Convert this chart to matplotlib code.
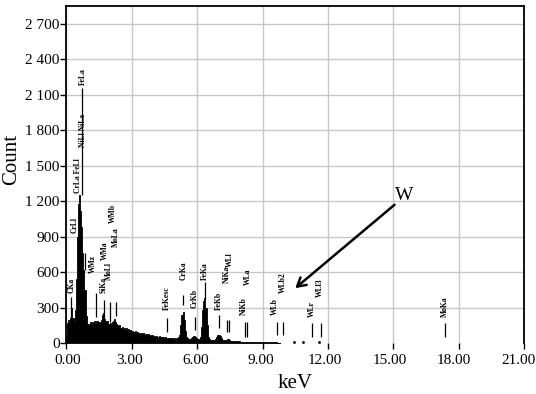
import matplotlib
matplotlib.use('Agg')
import matplotlib.pyplot as plt
import matplotlib.transforms as mtransforms
from matplotlib.ticker import FixedLocator
import numpy as np

plt.rcParams['font.family'] = ['Liberation Serif', 'DejaVu Serif']

# EDS spectrum, counts per 0.05 keV channel starting at 0.00 keV
counts = [
    60, 170, 200, 175, 210, 300, 215, 190, 280, 540, 900, 1180, 1250, 1120, 980, 760, 620, 450, 230, 160,
    165, 150, 175, 160, 180, 165, 185, 170, 190, 175, 180, 165, 200, 240, 255, 205, 185, 175, 190, 160,
    170, 150, 175, 190, 205, 175, 160, 150, 140, 150, 130, 138, 122, 130, 115, 125, 110, 118, 105, 112,
    98, 105, 92, 100, 88, 95, 84, 90, 80, 86, 78, 82, 72, 78, 68, 74, 64, 70, 62, 66,
    58, 63, 55, 60, 52, 57, 50, 54, 48, 52, 46, 49, 44, 47, 42, 45, 40, 43, 39, 41,
    38, 41, 43, 48, 70, 150, 240, 267, 200, 100, 50, 40, 38, 37, 38, 42, 50, 58, 55, 42,
    36, 35, 38, 55, 140, 280, 360, 380, 300, 150, 55, 35, 30, 28, 27, 27, 28, 35, 50, 65,
    72, 60, 42, 30, 25, 24, 26, 30, 35, 32, 24, 20, 19, 18, 18, 17, 16, 16, 15, 15,
    14, 14, 13, 14, 13, 14, 12, 12, 11, 12, 11, 10, 11, 10, 10, 9, 10, 9, 9, 8,
    9, 8, 8, 8, 7, 8, 7, 7, 7, 6, 7, 6, 6, 6, 5, 5, 5,
]
channel_width = 0.05
kev = np.arange(len(counts)) * channel_width

# isolated counts beyond the main spectrum
tail_kev = [10.45, 10.85, 11.6]
tail_counts = [8, 6, 10]

# element marker lines: position, bottom, top
marker_kev = [0.21, 0.73, 0.85, 1.35, 1.73, 2.00, 2.26, 4.62, 5.36, 5.89, 6.35, 7.01,
              7.35, 7.45, 8.19, 8.29, 9.67, 9.92, 11.25, 11.67, 17.36]
marker_lo = [197, 1250, 620, 220, 200, 180, 230, 95, 325, 112, 370, 130,
             95, 95, 55, 55, 70, 70, 55, 55, 55]
marker_hi = [390, 2160, 760, 425, 365, 350, 350, 215, 410, 222, 515, 240,
             195, 195, 180, 180, 180, 180, 170, 170, 170]

# peak labels
label_text = ['CKa', 'CrLl', 'CrLa FeLl', 'NiLl NiLa', 'FeLa', 'WMz', 'SiKa', 'WMa', 'MoLl',
              'WMb', 'MoLa', 'FeKesc', 'CrKa', 'CrKb', 'FeKa', 'FeKb', 'NiKa', 'WLl',
              'NiKb', 'WLa', 'WLb', 'WLb2', 'WLr', 'WLl3', 'MoKa']
label_kev = [0.24, 0.39, 0.54, 0.77, 0.74, 1.23, 1.72, 1.74, 1.95, 2.11, 2.25, 4.62,
             5.36, 5.89, 6.35, 7.01, 7.35, 7.50, 8.14, 8.34, 9.56, 9.93, 11.25, 11.63, 17.36]
label_bottom = [425, 930, 1270, 1660, 2180, 590, 425, 705, 535, 1015, 815, 280,
                530, 300, 530, 280, 510, 645, 240, 495, 240, 425, 222, 390, 222]

x_ticks = [0, 3, 6, 9, 12, 15, 18, 21]
y_ticks = [0, 300, 600, 900, 1200, 1500, 1800, 2100, 2400, 2700]
y_tick_labels = ['0', '300', '600', '900', '1 200', '1 500', '1 800', '2 100', '2 400', '2 700']

fig = plt.figure(figsize=(5.36, 3.94), dpi=100)
ax = fig.add_axes([0.124, 0.129, 0.854, 0.856])

ax.fill_between(kev, counts, step='mid', color='black', lw=0.6, edgecolor='black')
ax.plot(tail_kev, tail_counts, ls='none', marker='s', ms=0.9, color='black')

ax.vlines(marker_kev, marker_lo, marker_hi, color='black', lw=0.9)
for t, x, y in zip(label_text, label_kev, label_bottom):
    ax.text(x, y, t, rotation=90, ha='center', va='bottom', fontsize=5.5, fontweight='bold')

ax.annotate('', xy=(10.4, 450), xytext=(15.15, 1185),
            arrowprops=dict(arrowstyle='->,head_length=0.6,head_width=0.35', lw=1.8, color='black'))
ax.text(15.05, 1180, 'W', fontsize=14, ha='left', va='bottom')

ax.set_xlim(0, 21)
ax.set_ylim(0, 2850)
ax.set_xticks(x_ticks)
ax.set_xticklabels(['%.2f' % v for v in x_ticks])
ax.set_yticks(y_ticks)
ax.set_yticklabels(y_tick_labels)
ax.tick_params(labelsize=11, length=4, width=1, direction='out')
ax.tick_params(axis='x', pad=4)
ax.tick_params(axis='y', pad=1)

# small inward stub at the bottom of the right frame line
ax.yaxis.set_minor_locator(FixedLocator([0]))
ax.tick_params(axis='y', which='minor', left=False, right=True, direction='in', length=12, width=1.3)

ax.grid(True, color='#c8c8c8', lw=1)
ax.get_ygridlines()[0].set_visible(False)
ax.set_axisbelow(True)
for s in ax.spines.values():
    s.set_linewidth(1.3)
ax.spines['bottom'].set_visible(False)

# tick labels drift slightly left of their ticks in the original
for lbl, dx in zip(ax.get_xticklabels(), [1, -2, -2, -2, -3, -4, -5, -6]):
    lbl.set_transform(lbl.get_transform() + mtransforms.ScaledTranslation(dx / 100, 0, fig.dpi_scale_trans))

ax.set_xlabel('keV', fontsize=15, labelpad=5)
ax.set_ylabel('Count', fontsize=15)
ax.yaxis.set_label_coords(-0.098, 0.545)

fig.savefig('out.png', dpi=100)
